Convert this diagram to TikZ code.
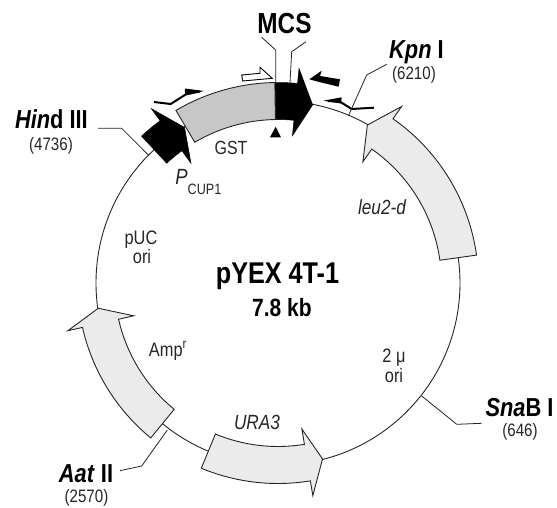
\documentclass[tikz,border=0pt]{standalone}
\usepackage{fontspec}
\setmainfont[FakeStretch=0.84]{Liberation Sans}
\tikzset{
    gene/.style={draw=black!85, fill=black!8, line width=0.9pt, line join=miter},
    genegray/.style={draw=black!85, fill=black!22, line width=0.9pt},
    geneblack/.style={draw=black, fill=black, line width=0.5pt},
    backbone/.style={draw=black!85, line width=0.9pt},
    leader/.style={draw=black!85, line width=0.8pt},
    primer/.style={draw=black, line width=2pt},
    site/.style={inner sep=0pt, anchor=base, font=\fontsize{26}{26}\selectfont\bfseries},
    sitepos/.style={inner sep=0pt, anchor=base, text=black!85, font=\fontsize{18}{18}\selectfont},
    title/.style={inner sep=0pt, anchor=base, font=\fontsize{30}{30}\selectfont\bfseries},
    feature/.style={inner sep=0pt, anchor=base, text=black!85, font=\fontsize{19.5}{20}\selectfont},
    featureit/.style={inner sep=0pt, anchor=base, text=black!85, font=\fontsize{20.5}{20}\selectfont\itshape}
}
% start angle, angle of the head's base, angle of the tip
\newcommand{\genearrow}[4]{
    \path[#1] (#2:163.5) arc[start angle=#2, end angle=#3, radius=163.5]
        -- (#3:148) -- (#4:181.5) -- (#3:215.5) -- (#3:200.5)
        arc[start angle=#3, end angle=#2, radius=200.5] -- cycle;
}
\begin{document}
\begin{tikzpicture}[x=1pt, y=1pt]
        \useasboundingbox (-278,-224) rectangle (279,283);

        % -----------------------------------------------------------------
        % PLASMID
        % -----------------------------------------------------------------
        \draw[backbone] (0,0) circle (182);

        \genearrow{gene}{8}{55}{60.5}
        \genearrow{gene}{247.5}{279.3}{284.2}
        \genearrow{gene}{230.6}{192.8}{188}
        \genearrow{geneblack}{132.9}{126}{121}
        \genearrow{geneblack}{90.9}{84.4}{79}
        \path[genegray] (90.9:163.5) arc[start angle=90.9, end angle=120.6, radius=163.5]
            -- (120.6:200.5) arc[start angle=120.6, end angle=90.9, radius=200.5] -- cycle;

        % -----------------------------------------------------------------
        % PRIMER E MARCATORI
        % -----------------------------------------------------------------
        \draw[draw=black, fill=white, line width=0.9pt] (-36.3,208) -- (-18,209.7) -- (-18,215.7)
            -- (-5.7,204.7) -- (-35.3,202) -- cycle;
        \draw[primer] (-124,181) -- (-107.3,179) -- (-92,188.7) -- (-78,191.5);
        \fill (-93,194.5) -- (-74,192) -- (-93,187.5) -- cycle;
        \fill (31.3,203.7) -- (43.7,212.3) -- (42,207) -- (62,203.7) -- (60.7,196.3) -- (40,201.3) -- cycle;
        \draw[primer] (96,175.3) -- (73.7,174) -- (62,181.3) -- (50,182);
        \fill (45.3,182.3) -- (63.7,185.7) -- (63,179.5) -- cycle;
        \fill (-8,145.7) -- (3,145.7) -- (-2.3,156.3) -- cycle;

        % -----------------------------------------------------------------
        % ETICHETTE
        % -----------------------------------------------------------------
        \node[title, font=\fontsize{29}{30}\selectfont\bfseries] (mcs) at (6.5,250) {MCS};
        \node[site, anchor=base west] (kpn) at (111,225) {\textit{Kpn} I};
        \node[sitepos] (kpnpos) at (136,204) {(6210)};
        \node[site, anchor=base east] (hind) at (-190,155) {\textit{Hin}d III};
        \node[sitepos] (hindpos) at (-227,133) {(4736)};
        \node[site] (aat) at (-192,-199) {\textit{Aat} II};
        \node[sitepos] (aatpos) at (-191.5,-219) {(2570)};
        \node[site] (sna) at (241.5,-133) {\textit{Sna}B I};
        \node[sitepos] (snapos) at (242,-153.5) {(646)};

        \node[title] (name) at (-0.5,0) {pYEX 4T-1};
        \node[title, font=\fontsize{25}{25}\selectfont\bfseries] (size) at (4,-33) {7.8 kb};

        \node[feature, font=\fontsize{19}{19}\selectfont] (gst) at (-47,128.7) {GST};
        \node[featureit, font=\fontsize{22}{22}\selectfont\itshape] (pcup) at (-96.5,98.7) {P};
        \node[feature, font=\fontsize{15}{15}\selectfont] (cup) at (-73.5,88.7) {CUP1};
        \node[featureit] (leu) at (104,69) {leu2-d};
        \node[feature] (twomu) at (116,-79.7) {2 μ};
        \node[feature] (twoori) at (116,-99) {ori};
        \node[feature] (puc) at (-137,39) {pUC};
        \node[feature] (pucori) at (-136,20) {ori};
        \node[feature] (amp) at (-110,-73) {Amp\textsuperscript{r}};
        \node[featureit] (ura) at (-21,-146) {URA3};

        % -----------------------------------------------------------------
        % LINEE DI RICHIAMO
        % -----------------------------------------------------------------
        \coordinate (mcsa) at (-16.3,245.7);
        \coordinate (mcsb) at (-2.3,233);
        \coordinate (mcsc) at (-2.3,200.3);
        \coordinate (mcsd) at (28,241.3);
        \coordinate (mcse) at (13.7,231.3);
        \coordinate (mcsf) at (12,200.3);
        \draw[leader] (mcsa) -- (mcsb) -- (mcsc);
        \draw[leader] (mcsd) -- (mcse) -- (mcsf);

        \coordinate (hinda) at (-180,154.7);
        \coordinate (hindb) at (-156.3,154.7);
        \coordinate (hindc) at (-129.7,128);
        \draw[leader] (hinda) -- (hindb) -- (hindc);

        \coordinate (kpna) at (108.7,218.7);
        \coordinate (kpnb) at (88.7,208);
        \coordinate (kpnc) at (70.3,167);
        \draw[leader] (kpna) -- (kpnb) -- (kpnc);

        \coordinate (aata) at (-158,-187.7);
        \coordinate (aatb) at (-136.3,-183);
        \coordinate (aatc) at (-110.7,-147);
        \draw[leader] (aata) -- (aatb) -- (aatc);

        \coordinate (snaa) at (203.7,-140.3);
        \coordinate (snab) at (178.7,-141.3);
        \coordinate (snac) at (143.7,-113);
        \draw[leader] (snaa) -- (snab) -- (snac);

    \end{tikzpicture}
\end{document}
